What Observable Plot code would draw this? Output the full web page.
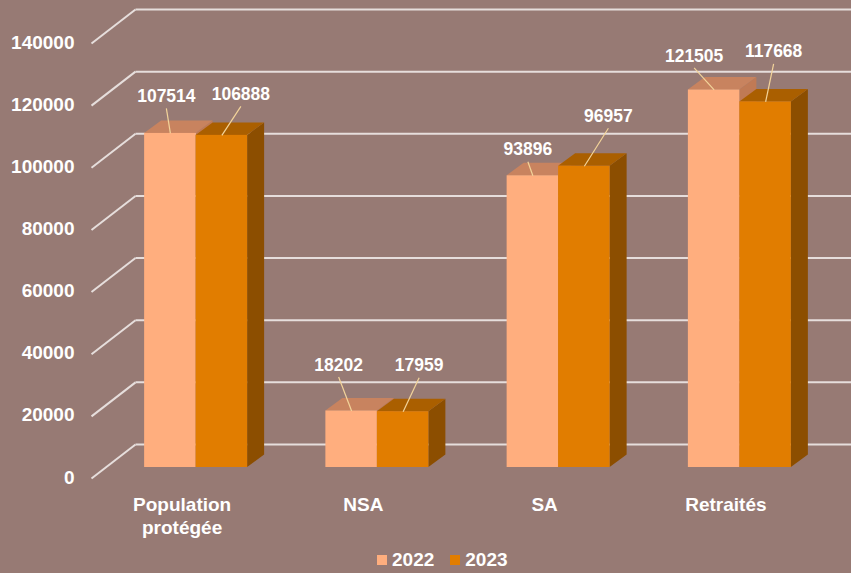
<!DOCTYPE html>
<html><head><meta charset="utf-8">
<script src="https://cdn.jsdelivr.net/npm/d3@7"></script>
<script src="https://cdn.jsdelivr.net/npm/@observablehq/plot@0.6"></script>
<style>
html,body{margin:0;padding:0;background:#977A74;}
#wrap{position:relative;width:851px;height:573px;overflow:hidden;font-family:"Liberation Sans",Arial,sans-serif;}
#legend{position:absolute;left:377px;top:548px;height:24px;display:flex;align-items:center;color:#fff;font-weight:bold;font-size:19px;}
#legend .sw{width:10px;height:10px;display:inline-block;margin-right:5px;}
#legend .item{display:flex;align-items:center;margin-right:16px;}
</style></head><body>
<div id="wrap"><div id="chart"></div><div id="legend"></div></div>
<script>
// ---- data ----
const categories = ["Population\nprotégée", "NSA", "SA", "Retraités"];
const seriesNames = ["2022", "2023"];
const values2022 = [107514, 18202, 93896, 121505];
const values2023 = [106888, 17959, 96957, 117668];
const yTicks = [0, 20000, 40000, 60000, 80000, 100000, 120000, 140000];

// ---- layout / style ----
const W = 851, H = 545, mL = 105, mR = 21, mT = 32, mB = 78;
const yMax = 140000;
const PXU = (W - mL - mR) / categories.length;   // px per category unit
const PXV = (H - mT - mB) / yMax;                 // px per value unit
const ox = px => px / PXU;        // pixel offset -> x units
const oy = px => -px / PXV;       // pixel offset (down +) -> value units
const barW = ox(51.5);
const depthX = ox(17), depthY = oy(-12.5);
const colors = {
  front: ["#FFAE7E", "#E17D00"],
  top: ["#C8835F", "#AA5F00"],
  side: ["#C07A55", "#8C4E00"]
};
const nudges = [
  [[-4, -37], [-13, -46], [-5, -26], [-20, -34]],
  [[19, -41], [16, -46], [24, -50], [8, -50]]
];
const grid = "#E6DEDC", leader = "#F3D49A";

const seriesValues = [values2022, values2023];
const bars = [];
seriesValues.forEach((vals, s) => vals.forEach((v, i) => {
  const x1 = i - barW + s * barW;
  bars.push({s, i, v, x1, x2: x1 + barW, xc: x1 + barW / 2, id: s + "-" + i});
}));

const marks = [];
// back-wall gridlines and diagonals
marks.push(Plot.link(yTicks, {
  x1: () => -0.5 + ox(135 - mL), x2: () => 3.5 + ox(mR),
  y1: d => d + oy(-23), y2: d => d + oy(-23),
  stroke: grid, strokeWidth: 2
}));
marks.push(Plot.link(yTicks, {
  x1: () => -0.5 + ox(91 - mL), x2: () => -0.5 + ox(135 - mL),
  y1: d => d + oy(11), y2: d => d + oy(-23),
  stroke: grid, strokeWidth: 2
}));
// y tick labels
marks.push(Plot.text(yTicks, {
  y: d => d, frameAnchor: "left", dx: 74 - mL, dy: 10, textAnchor: "end",
  text: d => String(d), fill: "#fff", fontSize: 19, fontWeight: "bold"
}));

for (let s = 0; s < 2; s++) {
  const b = bars.filter(d => d.s === s);
  const sidePts = b.flatMap(d => [
    {id: d.id, x: d.x2, y1: 0, y2: d.v},
    {id: d.id, x: d.x2 + depthX, y1: depthY, y2: d.v + depthY}
  ]);
  const topPts = b.flatMap(d => [
    {id: d.id, y: d.v, x1: d.x1, x2: d.x2},
    {id: d.id, y: d.v + depthY, x1: d.x1 + depthX, x2: d.x2 + depthX}
  ]);
  marks.push(Plot.areaY(sidePts, {x: "x", y1: "y1", y2: "y2", z: "id", fill: colors.side[s], curve: "linear"}));
  marks.push(Plot.areaX(topPts, {y: "y", x1: "x1", x2: "x2", z: "id", fill: colors.top[s], curve: "linear"}));
  marks.push(Plot.rect(b, {x1: "x1", x2: "x2", y1: 0, y2: "v", fill: colors.front[s]}));
}

// value labels with leader lines
marks.push(Plot.link(bars, {
  x1: "xc", y1: "v",
  x2: d => d.xc + ox(nudges[d.s][d.i][0]),
  y2: d => d.v + oy(nudges[d.s][d.i][1] + 12),
  stroke: leader, strokeWidth: 1.2
}));
for (const d of bars) {
  marks.push(Plot.text([d], {
    x: "xc", y: "v", dx: nudges[d.s][d.i][0], dy: nudges[d.s][d.i][1],
    text: r => String(r.v), fill: "#fff", fontSize: 17.5, fontWeight: "bold"
  }));
}

// category labels
marks.push(Plot.text(categories, {
  x: (d, i) => i, y: () => 0, dx: -14, dy: 26, lineAnchor: "top", lineHeight: 1.26,
  text: d => d, fill: "#fff", fontSize: 19, fontWeight: "bold"
}));

const chart = Plot.plot({
  width: W, height: H,
  marginLeft: mL, marginRight: mR, marginTop: mT, marginBottom: mB,
  style: {background: "transparent", fontFamily: "'Liberation Sans', Arial, sans-serif", overflow: "visible"},
  x: {type: "linear", domain: [-0.5, 3.5], axis: null},
  y: {type: "linear", domain: [0, yMax], axis: null},
  marks
});
document.getElementById("chart").appendChild(chart);

const legend = document.getElementById("legend");
seriesNames.forEach((n, s) => {
  const it = document.createElement("span");
  it.className = "item";
  it.innerHTML = `<span class="sw" style="background:${colors.front[s]}"></span>${n}`;
  legend.appendChild(it);
});
</script>
</body></html>
